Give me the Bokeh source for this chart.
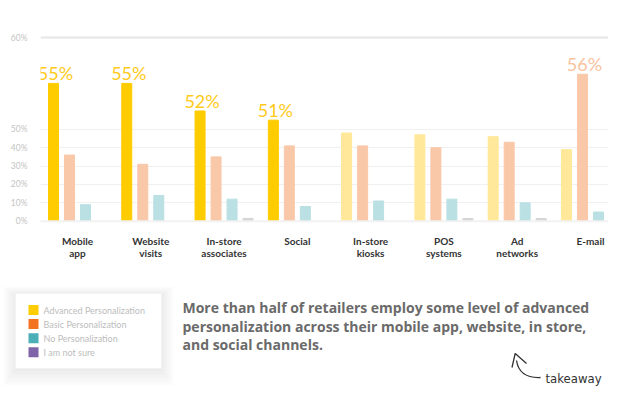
from bokeh.plotting import figure
from bokeh.models import ColumnDataSource, Range1d, FixedTicker, Span
from bokeh.embed import file_html
from bokeh.resources import INLINE
from bokeh.core.properties import value

# ---------------- data ----------------
cat_line1 = ["Mobile", "Website", "In-store", "Social", "In-store", "POS", "Ad", "E-mail"]
cat_line2 = ["app", "visits", "associates", "", "kiosks", "systems", "networks", ""]
advanced = [55, 55, 52, 51, 48, 47, 46, 39]
basic = [36, 31, 35, 41, 41, 40, 43, 56]
no_pers = [9, 14, 12, 8, 11, 12, 10, 5]
not_sure = [0, 0, 1.5, 0, 0, 1.5, 1.5, 0]
series_names = ["Advanced Personalization", "Basic Personalization",
                "No Personalization", "I am not sure"]
legend_colors = ["#FFCC00", "#F47321", "#4BAFB8", "#8064A9"]
highlight = [True, True, True, True, False, False, False, False]
callout_series = [0, 0, 0, 0, None, None, None, 1]
y_tick_values = [0, 10, 20, 30, 40, 50, 60]
takeaway_lines = [
    "More than half of retailers employ some level of advanced",
    "personalization across their mobile app, website, in store,",
    "and social channels.",
]

# ---------------- styling constants ----------------
BREAK = 50      # axis is stretched above this value
STRETCH = 5     # stretch factor above the break
GROUP_STEP = 4.58
BAR_W = 0.625
FONT = value("Lato")


def axis_y(v):
    return v if v <= BREAK else BREAK + (v - BREAK) * STRETCH


series_values = [advanced, basic, no_pers, not_sure]
bar_colors_hi = ["#FFCC00", "#F9C8A9", "#BAE0E3", "#D5D5D5"]
bar_colors_lo = ["#FFE899", "#F9C8A9", "#BAE0E3", "#D5D5D5"]
label_colors = ["#FFCA1A", "#F9C39E"]

xs, tops, cols = [], [], []
for g in range(len(cat_line1)):
    for s, vals in enumerate(series_values):
        if vals[g] <= 0:
            continue
        xs.append(g * GROUP_STEP + s)
        tops.append(axis_y(vals[g]))
        cols.append((bar_colors_hi if highlight[g] else bar_colors_lo)[s])
bars = ColumnDataSource(dict(x=xs, top=tops, color=cols))

lx, ly, lt, lc = [], [], [], []
for g, s in enumerate(callout_series):
    if s is None:
        continue
    v = series_values[s][g]
    lx.append(g * GROUP_STEP + s)
    ly.append(axis_y(v))
    lt.append(f"{v}%")
    lc.append(label_colors[s])
callouts = ColumnDataSource(dict(x=lx, y=ly, text=lt, color=lc))

cats = ColumnDataSource(dict(
    x=[g * GROUP_STEP + 1.5 for g in range(len(cat_line1))],
    y=[0] * len(cat_line1), l1=cat_line1, l2=cat_line2))

# ---------------- chart ----------------
p = figure(width=608, height=268, output_backend="svg", toolbar_location=None,
           x_range=Range1d(-0.8125, 34.6875), y_range=Range1d(-25.75, 104.9),
           x_axis_location=None, min_border_left=40, min_border_right=0,
           min_border_top=28, min_border_bottom=0, outline_line_color=None)

p.vbar(x="x", top="top", bottom=0, width=BAR_W, color="color", source=bars)

p.text(x="x", y="y", text="text", text_color="color", source=callouts,
       text_font=FONT, text_font_size="18px", text_align="center",
       text_baseline="alphabetic", x_offset=2, y_offset=-10)

p.text(x="x", y="y", text="l1", source=cats, text_font=FONT, text_font_size="10px",
       text_font_style="bold", text_color="#333333", text_align="center",
       text_baseline="middle", y_offset=20)
p.text(x="x", y="y", text="l2", source=cats, text_font=FONT, text_font_size="10px",
       text_font_style="bold", text_color="#333333", text_align="center",
       text_baseline="middle", y_offset=31.6)

ticks = [axis_y(t) for t in y_tick_values]
p.yaxis.ticker = FixedTicker(ticks=ticks)
p.yaxis.major_label_overrides = {axis_y(t): f"{t}%" for t in y_tick_values}
p.yaxis.axis_line_color = None
p.yaxis.major_tick_line_color = None
p.yaxis.minor_tick_line_color = None
p.yaxis.major_label_text_font = "Lato"
p.yaxis.major_label_text_font_size = "8.5px"
p.yaxis.major_label_text_color = "#c4c4c4"
p.yaxis.major_label_standoff = 7
p.ygrid.ticker = FixedTicker(ticks=ticks)
p.ygrid.grid_line_color = "#f0f0f0"
p.xgrid.visible = False

p.add_layout(Span(location=axis_y(y_tick_values[-1]), dimension="width",
                  line_color="#e6e6e6", line_width=2))
p.add_layout(Span(location=axis_y(y_tick_values[0]), dimension="width",
                  line_color="#f2f2f2", line_width=2))

# ---------------- legend + takeaway (coordinates = pixels) ----------------
q = figure(width=608, height=118, output_backend="svg", toolbar_location=None,
           x_range=Range1d(0, 608), y_range=Range1d(386, 268),
           x_axis_location=None, y_axis_location=None, min_border=0,
           min_border_left=0, min_border_right=0, min_border_top=0,
           min_border_bottom=0, outline_line_color=None)
q.grid.visible = False

for i in range(7):
    q.rect(x=88, y=332 + i * 0.6, width=146 + 4 * i, height=75 + 4 * i,
           fill_color="#000000", fill_alpha=0.010, line_color=None)
q.rect(x=88, y=330.5, width=146, height=75, fill_color="white",
       line_color="#f3f3f3")

ly0 = [309.5 + 14.1 * i for i in range(len(series_names))]
q.rect(x=[33] * 4, y=ly0, width=10, height=10, fill_color=legend_colors,
       line_color=None)
q.text(x=[43] * 4, y=ly0, text=series_names, text_font=FONT,
       text_font_size="9px", text_color="#bdbdbd", text_baseline="middle")

q.text(x=[182] * 3, y=[307.3, 325.8, 344.3], text=takeaway_lines,
       text_font=value("Open Sans"), text_font_size="14px",
       text_font_style="bold", text_color="#6a6a6a", text_baseline="alphabetic")

q.bezier(x0=516, y0=360, x1=540, y1=377, cx0=518, cy0=373, cx1=528, cy1=377.5,
         line_color="#333333", line_width=1.3)
q.multi_line(xs=[[511.5, 514.7, 526]], ys=[[367, 353, 363]], line_color="#333333",
             line_width=1.3)
q.text(x=[545], y=[378], text=["takeaway"],
       text_font=value("DejaVu Sans Condensed"), text_font_size="13px",
       text_color="#333333", text_baseline="alphabetic")

open("out.html", "w").write(file_html([p, q], INLINE))
